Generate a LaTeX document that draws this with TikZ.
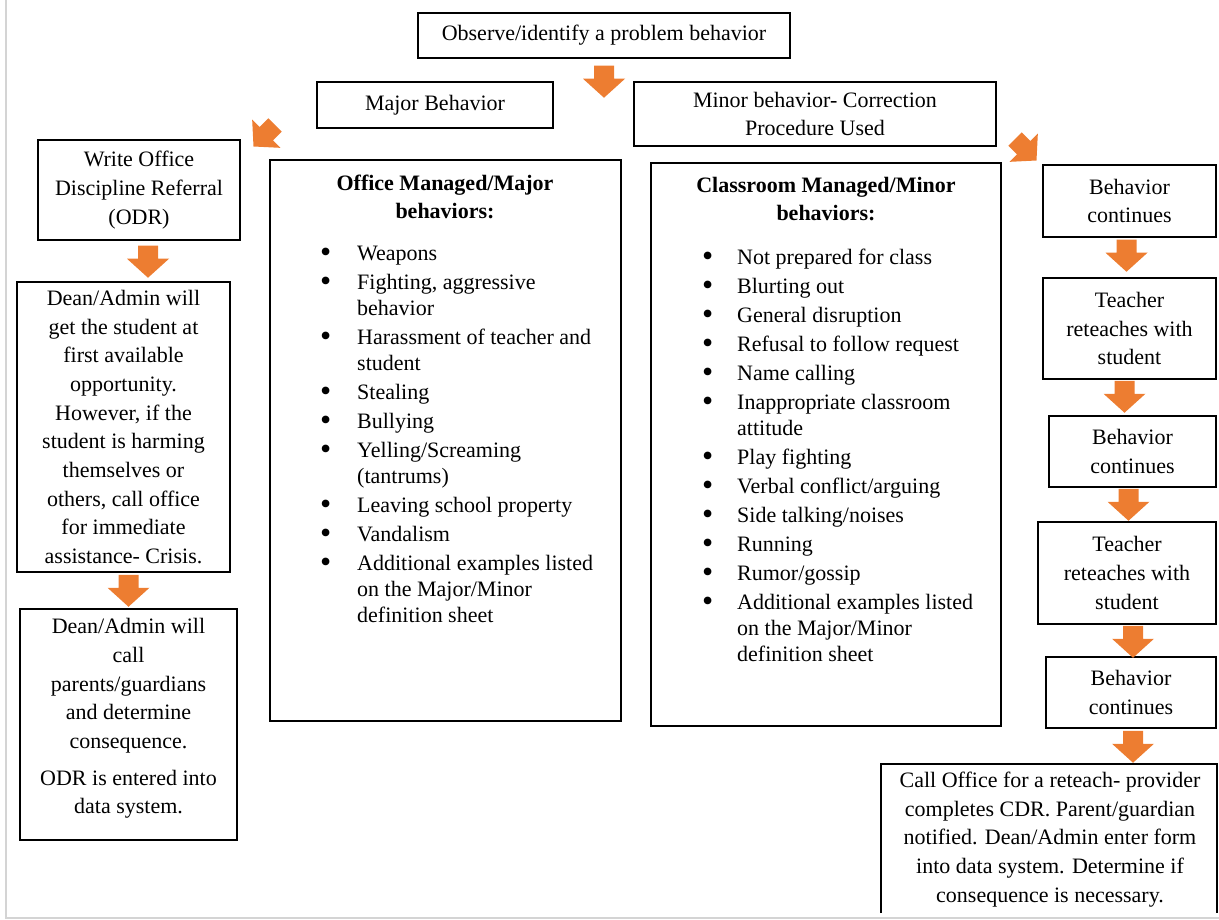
\documentclass[tikz,border=0pt]{standalone}
\usepackage{fontspec}
\setmainfont{LiberationSerif}[Extension=.ttf, UprightFont=*-Regular, BoldFont=*-Bold, ItalicFont=*-Italic, BoldItalicFont=*-BoldItalic]
\usetikzlibrary{calc}
\definecolor{arr}{HTML}{ED7D31}
\definecolor{framec}{HTML}{D4D4D4}
\newcommand{\bul}{\raisebox{-2.5pt}{\scalebox{1.45}{\textbullet}}}
\begin{document}
\begin{tikzpicture}[x=1pt,y=-1pt,
  box/.style={draw, line width=1.5pt, align=center, inner sep=0pt, font=\fontsize{22}{28.7}\selectfont},
  txt/.style={align=center, inner sep=0pt, font=\fontsize{22}{28.7}\selectfont},
  listtxt/.style={anchor=north west, inner sep=0pt, font=\fontsize{22}{26}\selectfont},
  ttl/.style={align=center, inner sep=0pt, font=\bfseries\fontsize{22}{28}\selectfont},
  darrow/.pic={\fill[arr] (-10,-16) -- (10,-16) -- (10,-3) -- (21,-3) -- (0,16) -- (-21,-3) -- (-10,-3) -- cycle;}
]
\useasboundingbox (0,0) rectangle (1219,920);
\draw[framec, line width=2pt] (6,0) -- (6,918) -- (1219,918);

% top
\node[box, minimum width=372pt, minimum height=45pt] (obs) at (604,35.5) {Observe/identify a problem behavior};
\node[box, minimum width=236pt, minimum height=46pt] (major) at (435,105) {Major Behavior};
\node[box, minimum width=362pt, minimum height=64pt] (minor) at (815,114) {Minor behavior- Correction\\Procedure Used};

% left column
\node[box, minimum width=202pt, minimum height=100pt] (odr) at (139,190) {Write Office\\Discipline Referral\\(ODR)};
\node[box, minimum width=213pt, minimum height=290pt] (dean1) at (123.5,427) {Dean/Admin will\\get the student at\\first available\\opportunity.\\However, if the\\student is harming\\themselves or\\others, call office\\for immediate\\assistance- Crisis.};
\node[box, minimum width=217pt, minimum height=231pt] (dean2) at (128.5,724.5) {};
\node[txt] (dean2t) at (128.5,718.5) {Dean/Admin will\\call\\parents/guardians\\and determine\\consequence.\\[8pt]ODR is entered into\\data system.};

% office managed
\node[box, minimum width=351pt, minimum height=561pt] (office) at (445.5,440.5) {};
\node[ttl] (otitle) at (445,197) {Office Managed/Major\\behaviors:};
\node[listtxt] (olist) at (320,242) {\begin{tabular}{@{}p{37pt}@{}l@{}}
\bul & Weapons\\[3pt]
\bul & Fighting, aggressive\\
 & behavior\\[3pt]
\bul & Harassment of teacher and\\
 & student\\[3pt]
\bul & Stealing\\[3pt]
\bul & Bullying\\[3pt]
\bul & Yelling/Screaming\\
 & (tantrums)\\[3pt]
\bul & Leaving school property\\[3pt]
\bul & Vandalism\\[3pt]
\bul & Additional examples listed\\
 & on the Major/Minor\\
 & definition sheet
\end{tabular}};

% classroom managed
\node[box, minimum width=350pt, minimum height=563pt] (class) at (826,444.5) {};
\node[ttl] (ctitle) at (826,199.5) {Classroom Managed/Minor\\behaviors:};
\node[listtxt] (clist) at (702,246) {\begin{tabular}{@{}p{35pt}@{}l@{}}
\bul & Not prepared for class\\[3pt]
\bul & Blurting out\\[3pt]
\bul & General disruption\\[3pt]
\bul & Refusal to follow request\\[3pt]
\bul & Name calling\\[3pt]
\bul & Inappropriate classroom\\
 & attitude\\[3pt]
\bul & Play fighting\\[3pt]
\bul & Verbal conflict/arguing\\[3pt]
\bul & Side talking/noises\\[3pt]
\bul & Running\\[3pt]
\bul & Rumor/gossip\\[3pt]
\bul & Additional examples listed\\
 & on the Major/Minor\\
 & definition sheet
\end{tabular}};

% right column
\node[box, minimum width=173pt, minimum height=72pt] (bc1) at (1129.5,201) {Behavior\\continues};
\node[box, minimum width=173pt, minimum height=101pt] (tr1) at (1129.5,328.5) {Teacher\\reteaches with\\student};
\node[box, minimum width=167pt, minimum height=71pt] (bc2) at (1132.5,451.5) {Behavior\\continues};
\node[box, minimum width=178pt, minimum height=102pt] (tr2) at (1127,573) {Teacher\\reteaches with\\student};
\node[box, minimum width=170pt, minimum height=71pt] (bc3) at (1131,692.5) {Behavior\\continues};
\node[txt, minimum width=336pt, minimum height=149pt] (call) at (1049,838.5) {};
\draw[line width=1.5pt] (call.south west) -- (call.north west) -- (call.north east) -- (call.south east);
\node[txt] (callt) at (1050,839.5) {Call Office for a reteach- provider\\completes CDR. Parent/guardian\\notified. Dean/Admin enter form\\into data system. Determine if\\consequence is necessary.};

% block arrows
\pic at ($(obs.south)+(0,23)$) {darrow};
\pic[rotate=-45, scale=0.95] at ($(major.south west)+(-52,7)$) {darrow};
\pic[rotate=45, scale=0.95] at ($(minor.south east)+(29,3)$) {darrow};
\pic at ($(odr.south)+(9,21)$) {darrow};
\pic at ($(dean1.south)+(5,18)$) {darrow};
\pic at ($(bc1.south)+(-3,18)$) {darrow};
\pic at ($(tr1.south)+(-5,17)$) {darrow};
\pic at ($(bc2.south)+(-4,17)$) {darrow};
\pic at ($(tr2.south)+(6,17)$) {darrow};
\pic at ($(bc3.south)+(2,18)$) {darrow};
\end{tikzpicture}
\end{document}
